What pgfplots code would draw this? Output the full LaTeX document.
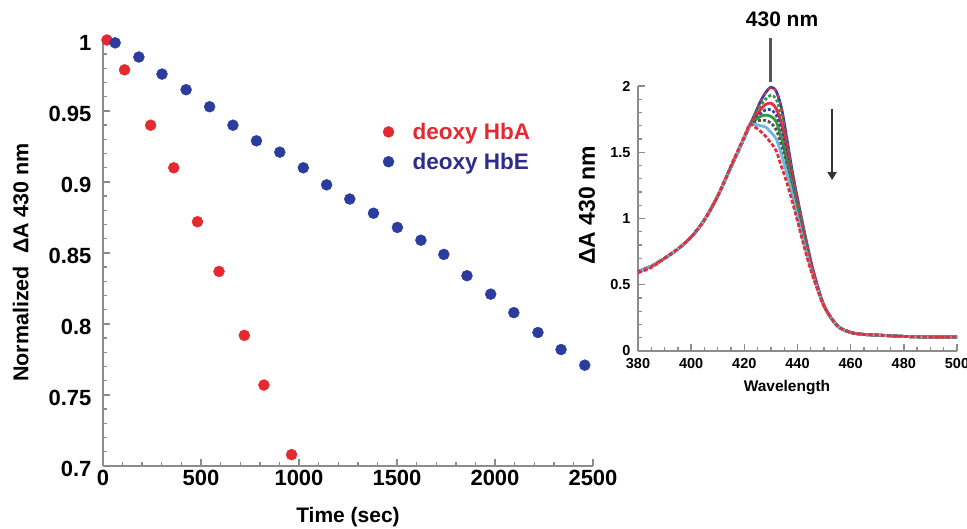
\documentclass[border=0pt]{standalone}
\usepackage{fontspec}
\setmainfont{Liberation Sans}
\usepackage{pgfplots}
\pgfplotsset{compat=1.18}
\usetikzlibrary{arrows.meta}
\definecolor{dotred}{HTML}{E42A30}
\definecolor{dotblue}{HTML}{2B3C9E}
\definecolor{hbetext}{HTML}{2E2E8A}
\definecolor{axisgray}{HTML}{8C8C8C}
\definecolor{cblue}{HTML}{3442A8}
\definecolor{cgreen}{HTML}{2E9A44}
\definecolor{cred}{HTML}{E3303A}
\definecolor{cgray}{HTML}{555555}
\definecolor{clight}{HTML}{6BB8E4}

% decay of normalized Delta A at 430 nm
\pgfplotstableread{
t a
20 1.000
110 0.979
243 0.940
361 0.910
482 0.872
592 0.837
721 0.792
821 0.757
962 0.708
}\hba
\pgfplotstableread{
t a
62 0.998
183 0.988
301 0.976
424 0.965
544 0.953
663 0.940
783 0.929
902 0.921
1022 0.910
1141 0.898
1259 0.888
1380 0.878
1502 0.868
1622 0.859
1739 0.849
1857 0.834
1978 0.821
2096 0.808
2219 0.794
2337 0.782
2458 0.771
}\hbe

% spectra, first scan (c1) to last scan (c8)
\pgfplotstableread{
w c1 c2 c3 c4 c5 c6 c7 c8
380 0.60 0.60 0.60 0.60 0.60 0.60 0.60 0.59
385 0.64 0.64 0.64 0.64 0.64 0.64 0.64 0.63
390 0.70 0.70 0.70 0.70 0.70 0.70 0.70 0.70
395 0.77 0.77 0.77 0.77 0.77 0.77 0.77 0.77
400 0.86 0.86 0.86 0.86 0.86 0.86 0.86 0.86
405 0.99 0.99 0.99 0.99 0.99 0.99 0.99 0.99
410 1.17 1.17 1.17 1.17 1.17 1.17 1.17 1.17
415 1.39 1.39 1.39 1.39 1.39 1.39 1.39 1.40
420 1.61 1.61 1.61 1.61 1.61 1.61 1.61 1.62
422 1.70 1.70 1.70 1.70 1.70 1.70 1.70 1.71
424 1.79 1.78 1.76 1.75 1.74 1.73 1.71 1.69
426 1.88 1.85 1.82 1.79 1.77 1.74 1.70 1.66
428 1.95 1.90 1.86 1.82 1.78 1.74 1.69 1.62
430 1.99 1.93 1.87 1.82 1.77 1.72 1.65 1.57
432 1.96 1.90 1.83 1.78 1.73 1.67 1.60 1.51
434 1.83 1.77 1.71 1.65 1.60 1.55 1.48 1.39
436 1.60 1.55 1.51 1.47 1.43 1.39 1.34 1.27
438 1.36 1.33 1.30 1.27 1.24 1.21 1.18 1.13
440 1.15 1.13 1.10 1.08 1.06 1.04 1.01 0.98
443 0.86 0.85 0.83 0.82 0.80 0.79 0.77 0.75
446 0.60 0.59 0.59 0.58 0.57 0.57 0.56 0.55
450 0.34 0.34 0.34 0.34 0.34 0.34 0.34 0.34
455 0.19 0.19 0.19 0.19 0.19 0.19 0.19 0.19
460 0.14 0.14 0.14 0.14 0.14 0.14 0.14 0.14
465 0.125 0.125 0.125 0.125 0.125 0.125 0.125 0.125
470 0.12 0.12 0.12 0.12 0.12 0.12 0.12 0.12
480 0.11 0.11 0.11 0.11 0.11 0.11 0.11 0.11
490 0.105 0.105 0.105 0.105 0.105 0.105 0.105 0.105
500 0.105 0.105 0.105 0.105 0.105 0.105 0.105 0.105
}\spectra

\pgfplotsset{
 myaxis/.style={
  scale only axis,
  axis lines*=left,
  axis line style={axisgray,line width=1.6pt},
  tick style={axisgray,line width=1.4pt},
  tick align=inside,
  minor tick length=4pt,
  major tick length=7pt,
  /pgf/number format/assume math mode=true,
  /pgf/number format/1000 sep={},
 },
}

\begin{document}
\begin{tikzpicture}
\path[use as bounding box] (0pt,0pt) rectangle (967pt,529pt);

\begin{axis}[myaxis,
 at={(103pt,63pt)},anchor=south west,
 width=490pt,height=426pt,
 xmin=0,xmax=2500,ymin=0.7,ymax=1,
 xtick={0,500,...,2500},
 ytick={0.7,0.75,0.8,0.85,0.9,0.95,1},
 minor x tick num=4,minor y tick num=4,
 clip=false,
 tick label style={font=\fontsize{22}{24}\selectfont\bfseries},
 yticklabel style={/pgf/number format/precision=2,xshift=-8pt,yshift=-3pt},
 xticklabel style={yshift=-1pt},
 xlabel={Time (sec)},
 ylabel={Normalized\ \ ΔA 430 nm},
 xlabel style={font=\fontsize{21}{24}\selectfont\bfseries,at={(axis description cs:0.5,-0.12)},anchor=center},
 ylabel style={font=\fontsize{21.5}{24}\selectfont\bfseries,at={(axis description cs:-0.168,0.478)},anchor=center,rotate=0},
 legend style={draw=none,fill=none,at={(axis description cs:0.565,0.815)},anchor=north west,
   font=\fontsize{22.5}{25}\selectfont\bfseries,row sep=8pt,nodes={inner sep=2pt}},
 legend cell align=left,
 legend image code/.code={\path[draw=none] (0pt,0pt) -- (22pt,0pt);\draw[#1] plot coordinates {(0pt,0pt)};},
]
\addplot[only marks,mark=*,mark size=5.5pt,color=dotred,mark options={draw=dotred,fill=dotred}] table[x=t,y=a] {\hba};
\addplot[only marks,mark=*,mark size=5.5pt,color=dotblue,mark options={draw=dotblue,fill=dotblue}] table[x=t,y=a] {\hbe};
\legend{\textcolor{dotred}{deoxy HbA},\textcolor{hbetext}{deoxy HbE}}
\end{axis}

\begin{axis}[myaxis,
 at={(638pt,178pt)},anchor=south west,
 width=319pt,height=265pt,
 xmin=380,xmax=500,ymin=0,ymax=2,
 xtick={380,400,...,500},
 ytick={0,0.5,1,1.5,2},
 minor x tick num=3,minor y tick num=4,
 clip=false,
 tick label style={font=\fontsize{14.5}{16}\selectfont\bfseries},
 yticklabel style={xshift=-4pt},
 xticklabel style={yshift=-4pt},
 xlabel={Wavelength},
 ylabel={ΔA 430 nm},
 xlabel style={font=\fontsize{15.5}{18}\selectfont\bfseries,at={(axis description cs:0.467,-0.136)},anchor=center},
 ylabel style={font=\fontsize{23}{26}\selectfont\bfseries,at={(axis description cs:-0.16,0.55)},anchor=center,rotate=0},
 every axis plot/.append style={line width=2.8pt,smooth,tension=0.5},
]
\addplot[cblue] table[x=w,y=c1] {\spectra};
\addplot[cgreen,densely dashed] table[x=w,y=c2] {\spectra};
\addplot[cred] table[x=w,y=c3] {\spectra};
\addplot[cblue,densely dashed] table[x=w,y=c4] {\spectra};
\addplot[cgreen] table[x=w,y=c5] {\spectra};
\addplot[cgray,densely dashed] table[x=w,y=c6] {\spectra};
\addplot[clight] table[x=w,y=c7] {\spectra};
\addplot[cred,dash pattern=on 4pt off 2pt] table[x=w,y=c8] {\spectra};
\addplot[cred,dash pattern=on 3pt off 4pt,line width=2pt] table[x=w,y=c1] {\spectra};
\draw[cgray,line width=3pt] (axis cs:430,2.03) -- (axis cs:430,2.36);
\node[font=\fontsize{21}{24}\selectfont\bfseries] at (axis cs:434.2,2.50) {430 nm};
\draw[cgray!60!black,line width=2.6pt,-{Triangle[length=8pt,width=9pt]}] (axis cs:453,1.83) -- (axis cs:453,1.29);
\end{axis}
\end{tikzpicture}
\end{document}
